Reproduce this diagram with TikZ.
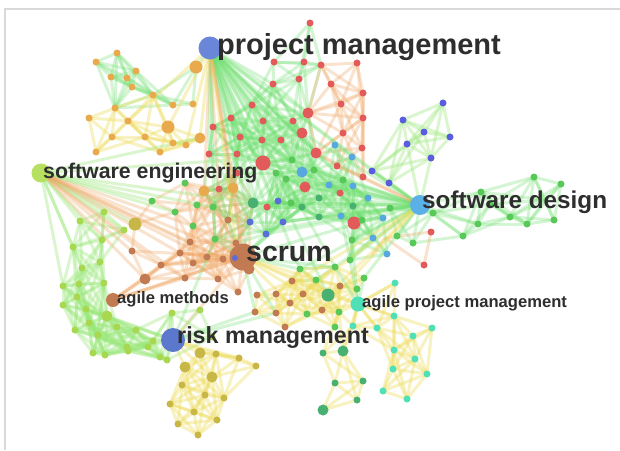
\documentclass[tikz,border=0pt]{standalone}
\usepackage{fontspec}
\setmainfont{Liberation Sans}
\definecolor{cR}{HTML}{E25A5A}
\definecolor{cO}{HTML}{E8AA4C}
\definecolor{cB}{HTML}{5A6ED8}
\definecolor{cP}{HTML}{5C5CE0}
\definecolor{cLB}{HTML}{58A8E0}
\definecolor{cG}{HTML}{58C858}
\definecolor{cDG}{HTML}{48B070}
\definecolor{cBr}{HTML}{C27A52}
\definecolor{cOl}{HTML}{C8B646}
\definecolor{cT}{HTML}{50E0B8}
\definecolor{cYG}{HTML}{A8D850}
\definecolor{eG}{HTML}{6EE06E}
\definecolor{eO}{HTML}{F0A460}
\definecolor{eY}{HTML}{EEDC5A}
\definecolor{eLG}{HTML}{98E878}
\definecolor{txt}{HTML}{2E2E2E}
\tikzset{
  eg/.style={draw=eG, line width=3pt, opacity=0.3},
  elg/.style={draw=eLG, line width=3pt, opacity=0.35},
  eo/.style={draw=eO, line width=3pt, opacity=0.3},
  ey/.style={draw=eY, line width=3pt, opacity=0.38},
  hubnode/.style={circle, inner sep=0pt, draw=none},
  lab/.style={text=txt, anchor=base west, inner sep=0pt},
}
\newcommand\mesh[3]{%
  \foreach \xa/\ya/\ca/\ra [count=\i] in #3{%
    \foreach \xb/\yb/\cb/\rb [count=\j] in #3{%
      \ifnum\j>\i
        \pgfmathsetmacro\dd{veclen(\xb-\xa,\yb-\ya)}%
        \ifdim\dd pt<#2pt \draw[#1] (\xa,\ya) -- (\xb,\yb);\fi
      \fi}}}
\newcommand\drawdots[1]{%
  \foreach \xa/\ya/\ca/\ra in #1{%
    \ifdim\ra pt>0pt \fill[\ca] (\xa,\ya) circle (\ra pt+0.5pt);\fi}}
\newcommand\hub[3]{\foreach \xb/\yb in {#3}{\draw[#2] (#1) -- (\xb,\yb);}}

\def\TC{310/23/cR/3, 274/62/cR/3, 304/62/cR/3, 321/65/cR/3, 273/84/cR/3, 299/79/cR/3, 252/105/cR/3, 231/118/cR/3, 263/121/cR/3, 293/121/cR/3, 308/113/cR/5, 302/133/cR/5, 281/140/cR/3, 262/140/cR/3, 240/137/cR/3, 213/127/cR/3, 316/153/cR/5, 292/160/cG/3, 314/170/cG/3, 302/172/cLB/5, 237/154/cR/3, 209/154/cR/3, 263/163/cR/7}
\def\TR{357/63/cR/3, 331/84/cR/3, 363/93/cR/3, 341/104/cR/3, 363/118/cR/3, 343/133/cR/3, 362/148/cR/3, 308/113/cR/0, 337/166/cR/3, 363/177/cR/3, 316/153/cR/0, 321/65/cR/0}
\def\PUR{443/103/cP/3, 403/120/cP/3, 424/132/cP/3, 450/137/cP/3, 407/144/cP/3, 431/158/cP/3, 372/171/cP/3, 389/183/cP/3, 420/205/cP/0}
\def\SD{420/205/cG/0, 534/177/cG/3, 561/184/cG/3, 481/192/cG/3, 490/204/cG/3, 510/217/cG/3, 527/224/cG/3, 554/220/cG/3, 478/224/cG/3, 463/236/cG/3, 433/213/cG/3, 413/243/cG/3, 397/236/cG/3, 390/208/cG/3, 545/200/cG/0}
\def\SDR{431/232/cR/3, 424/265/cR/3, 385/238/cR/0, 372/255/cR/0}
\def\CEN{335/145/cLB/3, 352/157/cLB/3, 329/185/cLB/3, 353/186/cLB/3, 368/198/cLB/3, 341/216/cLB/3, 383/218/cLB/3, 373/238/cLB/3, 387/254/cLB/3, 305/187/cR/5, 340/193/cR/3, 354/223/cR/6, 343/180/cG/3, 319/198/cDG/3, 319/217/cDG/3, 302/207/cDG/3, 353/206/cDG/3, 362/220/cG/3, 352/240/cG/3, 350/260/cG/3, 291/203/cG/3, 286/179/cG/3, 276/173/cG/3, 278/201/cB/3, 283/222/cB/3, 267/207/cR/3, 266/234/cB/3, 314/170/cG/0, 302/172/cLB/0}
\def\ORG{204/191/cO/5, 233/188/cO/5, 219/189/cR/3, 237/173/cR/3, 152/201/cG/3, 175/212/cG/3, 193/226/cG/3, 213/207/cG/3, 197/205/cG/3, 215/239/cG/3, 253/203/cDG/5, 190/242/cBr/3, 180/253/cBr/3, 132/251/cBr/3, 161/265/cBr/3, 193/263/cBr/3, 207/257/cBr/3, 223/259/cBr/3, 145/279/cBr/5, 185/278/cBr/3, 218/279/cBr/3, 238/292/cBr/3, 135/224/cOl/6, 185/183/cG/3, 250/222/cB/3, 236/243/cBr/3, 228/220/cBr/3, 249/269/cBr/5}
\def\MIX{213/127/x/0, 231/118/x/0, 240/137/x/0, 209/154/x/0, 237/154/x/0, 263/163/x/0, 237/173/x/0, 219/189/x/0, 233/188/x/0, 253/203/x/0, 250/222/x/0, 266/207/x/0, 278/201/x/0, 291/203/x/0, 276/173/x/0, 286/179/x/0, 266/234/x/0, 283/222/x/0, 215/239/x/0, 236/243/x/0, 300/269/x/0, 292/281/x/0, 316/280/x/0, 335/267/x/0, 302/207/x/0, 319/217/x/0, 292/160/x/0, 262/140/x/0, 204/191/x/0, 213/207/x/0, 228/220/x/0}
\def\LG{80/221/cYG/3, 104/212/cYG/3, 73/247/cYG/3, 102/240/cYG/3, 82/268/cYG/3, 100/262/cYG/3, 63/286/cYG/3, 79/284/cYG/3, 104/283/cYG/3, 86/309/cYG/3, 63/305/cYG/3, 77/297/cYG/3, 107/316/cYG/5, 89/323/cYG/3, 75/330/cYG/3, 98/335/cYG/3, 117/327/cYG/3, 97/337/cYG/0, 93/353/cYG/3, 105/355/cYG/3, 127/347/cYG/3, 136/330/cYG/3, 148/347/cYG/3, 160/357/cYG/3, 128/351/cYG/3, 153/341/cYG/3, 172/313/cYG/3, 167/360/cYG/3, 124/230/cYG/3, 200/310/cYG/3, 212/337/cYG/3}
\def\BL{200/353/cOl/5, 216/354/cOl/3, 239/358/cOl/3, 256/366/cOl/3, 185/367/cOl/5, 212/377/cOl/5, 182/385/cOl/3, 205/395/cOl/3, 224/398/cOl/3, 170/404/cOl/3, 194/412/cOl/3, 217/420/cOl/3, 178/424/cOl/3, 198/435/cOl/3}
\def\BM{343/351/cDG/5, 323/353/cDG/3, 335/383/cDG/3, 363/381/cDG/3, 357/400/cDG/3, 323/410/cDG/5, 339/312/cG/0, 353/326/cT/0}
\def\BR{395/283/cT/3, 394/316/cT/3, 432/328/cT/3, 413/336/cT/3, 394/350/cT/3, 415/359/cT/3, 393/369/cT/3, 427/374/cT/3, 383/391/cT/3, 407/399/cT/3, 377/328/cT/3, 353/326/cT/3, 358/304/cT/0}
\def\YM{328/295/cDG/6, 339/312/cG/3, 357/289/cG/3, 307/314/cG/3, 335/327/cG/3, 335/267/cG/3, 316/280/cG/3, 300/269/cG/3, 364/278/cG/3, 276/294/cBr/3, 257/295/cBr/3, 255/312/cBr/3, 276/313/cBr/3, 290/303/cBr/3, 303/294/cBr/3, 322/310/cBr/3, 340/286/cBr/3, 285/327/cBr/3, 292/281/cBr/3}
\def\TLg{117/53/cO/3, 96/62/cO/3, 136/71/cO/3, 127/78/cO/3, 111/77/cO/3, 132/87/cO/3, 153/95/cO/3, 173/105/cO/3, 193/104/cO/3, 115/108/cO/3, 196/67/cO/6}
\def\TLy{89/118/cO/3, 128/121/cO/3, 168/127/cO/6, 200/138/cO/5, 112/137/cO/3, 145/137/cO/3, 96/152/cO/3, 173/143/cO/3, 186/145/cO/3, 160/152/cO/3, 115/108/cO/0, 153/95/cO/0}

\begin{document}
\begin{tikzpicture}[x=1pt, y=-1pt]
\useasboundingbox (0,0) rectangle (620,450);
\fill[white] (0,0) rectangle (620,450);
\draw[black!15, line width=1.5pt] (5,450) -- (5,9) -- (620,9);

% hub positions
\coordinate (pm) at (210,48);
\coordinate (se) at (41,173);
\coordinate (sd) at (420,205);
\coordinate (scrum) at (243,257);
\coordinate (am) at (113,300);
\coordinate (apm) at (358,304);
\coordinate (rm) at (173,340);

% cluster meshes
\mesh{eg}{58}{\TC}
\mesh{eo}{60}{\TR}
\mesh{elg}{70}{\PUR}
\mesh{eg}{65}{\SD}
\mesh{eo}{50}{\SDR}
\mesh{eg}{45}{\CEN}
\mesh{eo}{48}{\ORG}
\mesh{eg}{42}{\MIX}
\mesh{elg}{55}{\LG}
\mesh{ey}{50}{\BL}
\mesh{ey}{55}{\BM}
\mesh{ey}{55}{\BR}
\mesh{ey}{42}{\YM}
\mesh{eg}{60}{\TLg}
\mesh{ey}{52}{\TLy}

% hub connectors
\hub{pm}{eg}{196/67, 213/127, 231/118, 252/105, 273/84, 263/163, 237/173, 302/133, 308/113, 316/153, 302/172, 329/185, 305/187, 266/207, 286/179, 343/180, 353/206, 383/218, 250/222, 240/137, 209/154, 328/295, 300/269, 335/267, 266/234, 283/222, 215/239, 253/203, 319/217, 341/216, 420/205, 372/171}
\hub{pm}{eo}{233/188, 204/191, 243/257, 249/269, 223/259}
\hub{pm}{ey}{168/127, 128/121, 200/138, 186/145, 236/243}
\hub{se}{elg}{80/221, 73/247, 63/286, 104/212, 124/230, 135/224, 152/201, 175/212, 102/240, 82/268, 213/207, 230/160, 200/138, 253/203}
\hub{se}{eo}{132/251, 145/279, 161/265, 180/253, 190/242, 207/257, 243/257, 193/226, 223/259, 185/278}
\hub{sd}{eg}{302/207, 319/198, 319/217, 291/203, 283/222, 341/216, 350/260, 352/240, 300/269, 335/267, 364/278, 276/173, 286/179, 243/257, 253/203, 215/239, 266/234, 372/171, 343/180, 329/185, 305/187, 314/170, 263/163, 302/133, 292/160}
\hub{sd}{ey}{328/295, 322/310, 303/294, 276/294}
\hub{sd}{eo}{363/177, 337/166}
\hub{scrum}{eo}{145/279, 132/251, 180/253, 193/263, 161/265, 173/340, 113/300, 238/292, 218/279, 204/191, 233/188}
\hub{scrum}{eg}{215/239, 253/203, 300/269, 302/207, 283/222, 266/234, 335/267, 276/313, 255/312}
\hub{scrum}{ey}{358/304, 328/295, 290/303, 303/294, 316/280}
\hub{rm}{elg}{107/316, 128/351, 153/341, 137/328, 160/357, 167/360, 98/335, 127/347, 86/309, 200/310, 212/337, 172/313}
\hub{rm}{eg}{255/312, 276/313, 215/239}
\hub{rm}{ey}{200/353, 185/367, 212/377, 216/354, 239/358}
\hub{am}{eo}{243/257, 145/279, 161/265, 180/253, 185/278}
\hub{apm}{ey}{395/283, 394/316, 377/328, 353/326, 343/351, 328/295, 339/312, 322/310}
\hub{apm}{eg}{335/267, 364/278, 352/240, 350/260}

% dots
\drawdots{\TC}\drawdots{\TR}\drawdots{\PUR}\drawdots{\SD}\drawdots{\SDR}
\drawdots{\CEN}\drawdots{\ORG}\drawdots{\LG}\drawdots{\BL}\drawdots{\BM}
\drawdots{\BR}\drawdots{\YM}\drawdots{\TLg}\drawdots{\TLy}

% main items
\node[hubnode, fill={rgb,255:red,106;green,134;blue,216}, minimum size=23pt] (pmc) at (pm) {};
\node[hubnode, fill={rgb,255:red,184;green,224;blue,96}, minimum size=19pt] (sec) at (se) {};
\node[hubnode, fill={rgb,255:red,92;green,176;blue,232}, minimum size=20pt] (sdc) at (sd) {};
\node[hubnode, fill=cBr, minimum size=27pt] (scrumc) at (scrum) {};
\fill[cB] (235,258) circle (3pt);
\node[hubnode, fill=cBr, minimum size=14pt] (amc) at (am) {};
\node[hubnode, fill=cT, minimum size=15pt] (apmc) at (apm) {};
\node[hubnode, fill={rgb,255:red,91;green,120;blue,204}, minimum size=24pt] (rmc) at (rm) {};

\node[lab, font=\fontsize{29}{29}\selectfont\bfseries] (pml) at (217,54) {project management};
\node[lab, font=\fontsize{21.3}{21.3}\selectfont\bfseries] (sel) at (43,178) {software engineering};
\node[lab, font=\fontsize{24.3}{24.3}\selectfont\bfseries] (sdl) at (422,208) {software design};
\node[lab, font=\fontsize{28.5}{28.5}\selectfont\bfseries] (scruml) at (246,261) {scrum};
\node[lab, font=\fontsize{16.6}{16.6}\selectfont\bfseries] (aml) at (117,303) {agile methods};
\node[lab, font=\fontsize{16.6}{16.6}\selectfont\bfseries] (apml) at (362,307) {agile project management};
\node[lab, font=\fontsize{23.3}{23.3}\selectfont\bfseries] (rml) at (177,343) {risk management};
\end{tikzpicture}
\end{document}
